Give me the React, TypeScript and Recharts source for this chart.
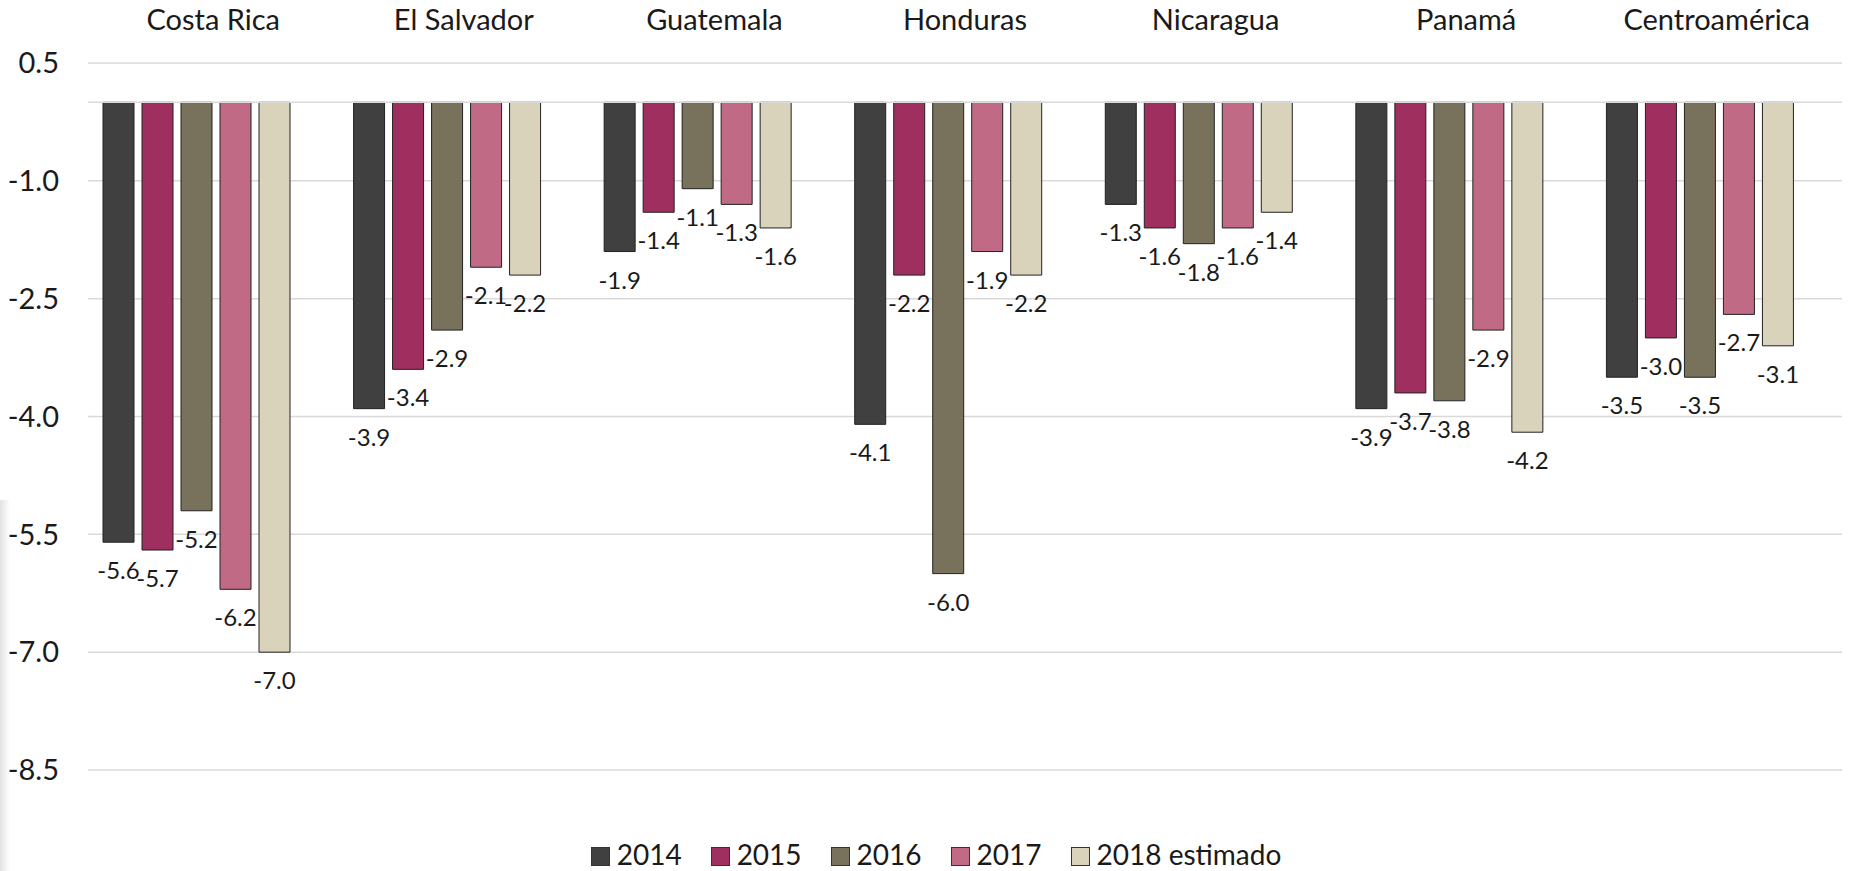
import React from 'react';
import { BarChart, Bar, XAxis, YAxis, CartesianGrid, Legend, LabelList, ReferenceLine } from 'recharts';

const countries = ['Costa Rica', 'El Salvador', 'Guatemala', 'Honduras', 'Nicaragua', 'Panamá', 'Centroamérica'];
const y2014 = [-5.6, -3.9, -1.9, -4.1, -1.3, -3.9, -3.5];
const y2015 = [-5.7, -3.4, -1.4, -2.2, -1.6, -3.7, -3.0];
const y2016 = [-5.2, -2.9, -1.1, -6.0, -1.8, -3.8, -3.5];
const y2017 = [-6.2, -2.1, -1.3, -1.9, -1.6, -2.9, -2.7];
const y2018 = [-7.0, -2.2, -1.6, -2.2, -1.4, -4.2, -3.1];
const yTicks = [0.5, -1.0, -2.5, -4.0, -5.5, -7.0, -8.5];

const series = [
  { key: 'y2014', name: '2014', color: '#404040' },
  { key: 'y2015', name: '2015', color: '#9e2f5e' },
  { key: 'y2016', name: '2016', color: '#78715b' },
  { key: 'y2017', name: '2017', color: '#c06a85' },
  { key: 'y2018', name: '2018 estimado', color: '#d8d3ba' },
];

const data = countries.map((c, i) => ({
  country: c,
  y2014: y2014[i],
  y2015: y2015[i],
  y2016: y2016[i],
  y2017: y2017[i],
  y2018: y2018[i],
}));

const FONT = 'Lato, "Open Sans", sans-serif';
const SHIFT = 17; // bars sit a little left of the category centre

const renderLabel = (props: any) => {
  const { x, y, width, height, value } = props;
  const end = Math.max(y, y + height);
  return (
    <text x={x + width / 2} y={end + 37} textAnchor="middle" fontSize={24} fontFamily={FONT} fill="#1a1a1a">
      {Number(value).toFixed(1)}
    </text>
  );
};

const renderTick = (props: any) => {
  const { x, y, payload } = props;
  return (
    <text x={x + SHIFT} y={y} textAnchor="middle" fontSize={29} fontFamily={FONT} fill="#1a1a1a">
      {payload.value}
    </text>
  );
};

const renderLegend = () => (
  <div style={{ display: 'flex', justifyContent: 'center', fontFamily: FONT, fontSize: 28, lineHeight: '34px', color: '#1a1a1a', height: 34, alignItems: 'center', paddingLeft: 30 }}>
    {series.map((s, i) => (
      <div key={s.key} style={{ display: 'flex', alignItems: 'center', marginRight: i < series.length - 1 ? 29 : 0 }}>
        <span style={{ display: 'inline-block', width: 17, height: 17, background: s.color, border: '1px solid #333', marginRight: 7, marginTop: 4 }} />
        <span>{s.name}</span>
      </div>
    ))}
  </div>
);

export default function App() {
  return (
    <div style={{ position: 'absolute', left: 0, top: 0, width: 1851, height: 871, background: '#fff', overflow: 'hidden' }}>
      <div style={{ position: 'absolute', left: 0, top: 500, width: 10, height: 371, background: 'linear-gradient(to right, #e2e2e2, #ffffff)' }} />
      <BarChart
        width={1851}
        height={871}
        data={data}
        margin={{ top: 0, right: 9, left: 0, bottom: 67 }}
        barSize={31}
        barGap={8}
      >
        <CartesianGrid vertical={false} stroke="#d9d9d9" strokeWidth={1.5} />
        <ReferenceLine y={0} stroke="#d9d9d9" strokeWidth={1.5} />
        <XAxis
          dataKey="country"
          orientation="top"
          height={63}
          axisLine={false}
          tickLine={false}
          tickMargin={27}
          interval={0}
          padding={{ left: -SHIFT, right: SHIFT }}
          tick={renderTick}
        />
        <YAxis
          domain={[-8.5, 0.5]}
          ticks={yTicks}
          width={88}
          axisLine={false}
          tickLine={false}
          tickMargin={23}
          tickFormatter={(v: number) => v.toFixed(1)}
          tick={{ fontSize: 29, fontFamily: FONT, fill: '#1a1a1a' }}
          allowDataOverflow
        />
        <Legend verticalAlign="bottom" content={renderLegend} wrapperStyle={{ bottom: 0 }} />
        {series.map((s) => (
          <Bar key={s.key} dataKey={s.key} name={s.name} fill={s.color} stroke="#222" strokeWidth={1} isAnimationActive={false}>
            <LabelList dataKey={s.key} content={renderLabel} />
          </Bar>
        ))}
      </BarChart>
    </div>
  );
}
